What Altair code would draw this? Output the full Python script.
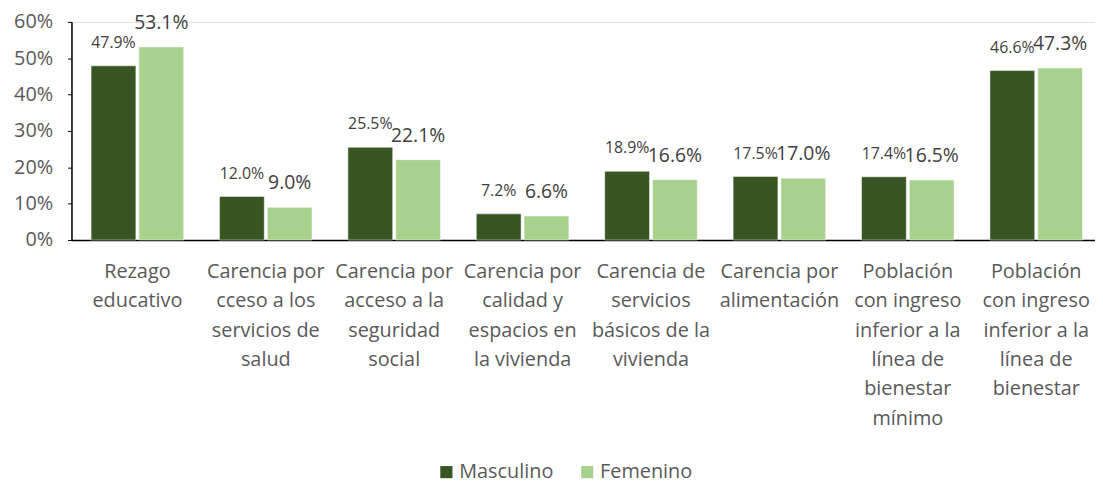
import altair as alt
import pandas as pd

categories = [
    "Rezago\neducativo",
    "Carencia por\ncceso a los\nservicios de\nsalud",
    "Carencia por\nacceso a la\nseguridad\nsocial",
    "Carencia por\ncalidad y\nespacios en\nla vivienda",
    "Carencia de\nservicios\nbásicos de la\nvivienda",
    "Carencia por\nalimentación",
    "Población\ncon ingreso\ninferior a la\nlínea de\nbienestar\nmínimo",
    "Población\ncon ingreso\ninferior a la\nlínea de\nbienestar",
]
masculino = [47.9, 12.0, 25.5, 7.2, 18.9, 17.5, 17.4, 46.6]
femenino = [53.1, 9.0, 22.1, 6.6, 16.6, 17.0, 16.5, 47.3]
series = ["Masculino", "Femenino"]
colors = ["#375623", "#A9D18E"]

rows = []
for i, c in enumerate(categories):
    rows.append({"cat": c, "serie": "Masculino", "v": masculino[i] / 100})
    rows.append({"cat": c, "serie": "Femenino", "v": femenino[i] / 100})
df = pd.DataFrame(rows)

FONT = "Open Sans"
GRAY = "#595959"

x = alt.X("cat:N", sort=categories, title=None,
          scale=alt.Scale(paddingInner=0.279, paddingOuter=0.125, align=0.611, round=False),
          axis=alt.Axis(labelExpr="split(datum.label, '\\n')", labelAngle=0,
                        labelFont=FONT, labelFontSize=20, labelColor=GRAY,
                        labelLineHeight=29.5, labelPadding=22, ticks=False,
                        domainColor="#000000", domainWidth=1.5, labelLimit=200))
xo = alt.XOffset("serie:N", sort=series,
                 scale=alt.Scale(paddingInner=0.0625, paddingOuter=0))
y = alt.Y("v:Q", title=None,
          scale=alt.Scale(domain=[0, 0.6], nice=False),
          axis=alt.Axis(format=".0%", values=[0, 0.1, 0.2, 0.3, 0.4, 0.5, 0.6],
                        grid=False, labelFont=FONT, labelFontSize=20,
                        labelColor=GRAY, tickSize=4, tickColor="#000000",
                        domainColor="#000000", domainWidth=1.5, labelPadding=15))

color = alt.Color("serie:N", sort=series,
                  scale=alt.Scale(domain=series, range=colors),
                  legend=alt.Legend(title=None, orient="none", legendX=368, legendY=444,
                                    direction="horizontal", symbolType="square",
                                    symbolSize=150, symbolStrokeWidth=0,
                                    labelFont=FONT, labelFontSize=20, labelColor=GRAY,
                                    columnPadding=24, labelOffset=3))

base = alt.Chart(df)
bars = base.mark_bar(stroke="white", strokeWidth=0.5).encode(x=x, xOffset=xo, y=y, color=color)

lab_m = base.transform_filter(alt.datum.serie == "Masculino").mark_text(
    dy=-18, font=FONT, fontSize=16, color="#404040", baseline="alphabetic"
).encode(x=x, xOffset=xo, y=y, text=alt.Text("v:Q", format=".1%"))
lab_f = base.transform_filter(alt.datum.serie == "Femenino").mark_text(
    dy=-18, font=FONT, fontSize=19.5, color="#404040", baseline="alphabetic"
).encode(x=x, xOffset=xo, y=y, text=alt.Text("v:Q", format=".1%"))

chart = alt.layer(bars, lab_m, lab_f).properties(width=1032, height=220).configure_view(
    stroke=None
).configure(padding={"left": 5, "right": 0, "top": 2, "bottom": 0})

chart.save("out.html", embed_options={"renderer": "svg", "actions": False})
